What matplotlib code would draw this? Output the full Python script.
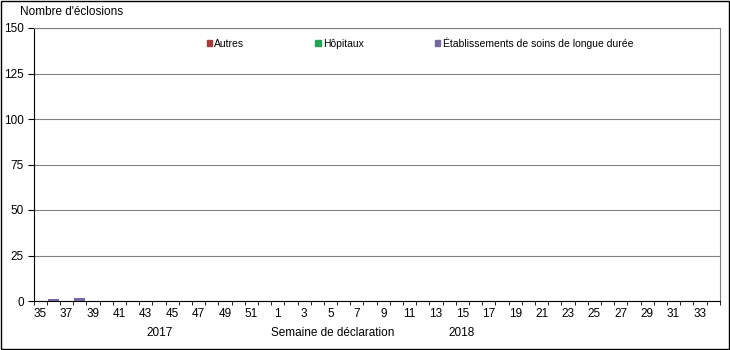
import numpy as np
import matplotlib.pyplot as plt
from matplotlib.patches import Patch, Rectangle

plt.rcParams['font.family'] = ['Liberation Sans', 'DejaVu Sans']

# weeks 35-52 of 2017 then 1-34 of 2018
weeks = list(range(35, 53)) + list(range(1, 35))
autres = np.zeros(len(weeks))
hopitaux = np.zeros(len(weeks))
sld = np.zeros(len(weeks))
sld[weeks.index(36)] = 1
sld[weeks.index(38)] = 1.5

series_names = ["Autres", "Hôpitaux", "Établissements de soins de longue durée"]
colors = ["#A33C3A", "#22A457", "#7767A0"]

fig = plt.figure(figsize=(7.3, 3.5), dpi=100)
ax = fig.add_axes([0.046, 0.14, 0.94, 0.78])

x = np.arange(len(weeks))
bottom = np.zeros(len(weeks))
for vals, c in zip([autres, hopitaux, sld], colors):
    ax.bar(x, vals, bottom=bottom, width=0.85, color=c, zorder=3)
    bottom += vals

ax.set_xlim(-0.5, len(weeks) - 0.5)
ax.set_ylim(0, 150)
ax.set_yticks(np.arange(0, 151, 25))
ax.yaxis.grid(True, color="#808080", linewidth=0.8, zorder=0)
ax.set_xticks(x[::2])
ax.set_xticklabels([str(w) for w in weeks[::2]])
ax.set_xticks(np.arange(-0.5, len(weeks), 1), minor=True)
ax.tick_params(axis="x", which="major", length=0, labelsize=8.5, pad=5)
ax.tick_params(axis="x", which="minor", length=3, direction="out", color="black")
ax.tick_params(axis="y", length=4, labelsize=8.5, pad=3)

for s in ["top", "right"]:
    ax.spines[s].set_color("#808080")
for s in ["left", "bottom"]:
    ax.spines[s].set_color("black")

fig.text(0.027, 0.965, "Nombre d'éclosions", fontsize=8.5, va="center")
fig.text(0.218, 0.048, "2017", fontsize=8.5, ha="center", va="center")
fig.text(0.456, 0.048, "Semaine de déclaration", fontsize=8.5, ha="center", va="center")
fig.text(0.632, 0.048, "2018", fontsize=8.5, ha="center", va="center")

handles = [Patch(color=c, label=n) for c, n in zip(colors, series_names)]
ax.legend(handles=handles, ncol=3, frameon=False, fontsize=7.5,
          loc="center", bbox_to_anchor=(0.563, 0.945), handlelength=0.5,
          handleheight=0.5, handletextpad=0.25, columnspacing=6.8)

fig.patches.append(Rectangle((0.002, 0.003), 0.996, 0.994, transform=fig.transFigure,
                             fill=False, edgecolor="black", linewidth=1))

fig.savefig("out.png", dpi=100)
